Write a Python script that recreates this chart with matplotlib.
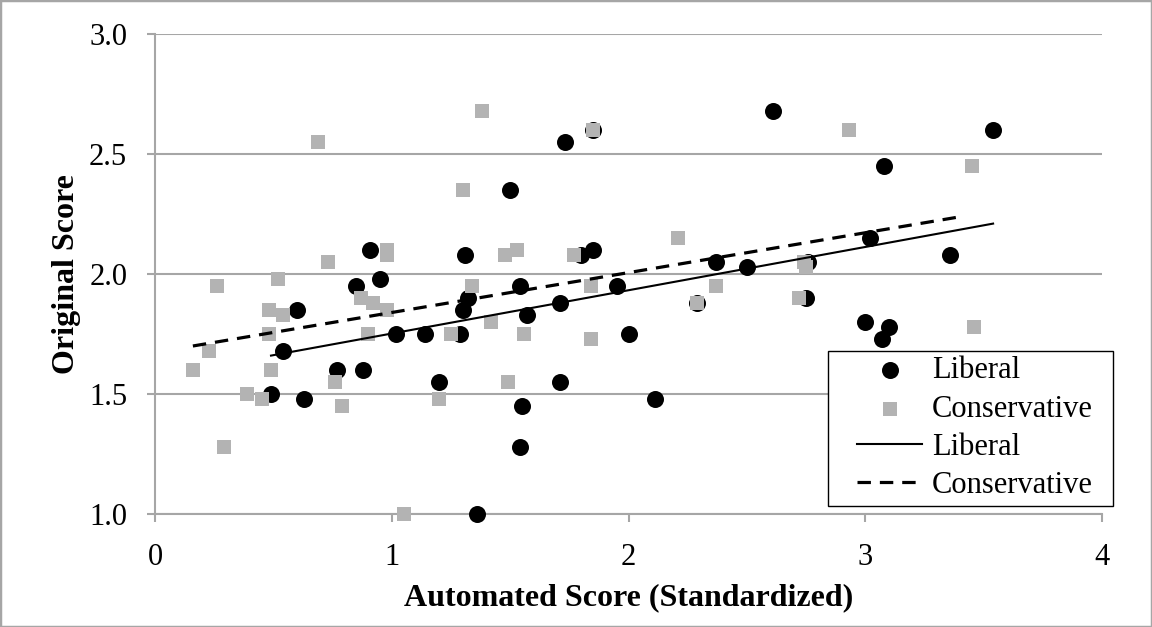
import matplotlib
matplotlib.use("Agg")
import matplotlib.pyplot as plt
from matplotlib.legend_handler import HandlerLine2D, HandlerPathCollection
from matplotlib.patches import Rectangle

# ─── Dados ───────────────────────────────────────────────────────────────────
lib_x = [0.49, 0.54, 0.60, 0.63, 0.77, 0.85, 0.88, 0.91, 0.95, 1.02,
         1.14, 1.20, 1.29, 1.30, 1.31, 1.32, 1.36, 1.50, 1.54, 1.54,
         1.55, 1.57, 1.71, 1.71, 1.73, 1.80, 1.85, 1.85, 1.95, 2.00,
         2.11, 2.29, 2.37, 2.50, 2.61, 2.76, 2.75, 3.00, 3.10, 3.07,
         3.08, 3.02, 3.36, 3.54]
lib_y = [1.50, 1.68, 1.85, 1.48, 1.60, 1.95, 1.60, 2.10, 1.98, 1.75,
         1.75, 1.55, 1.75, 1.85, 2.08, 1.90, 1.00, 2.35, 1.28, 1.95,
         1.45, 1.83, 1.55, 1.88, 2.55, 2.08, 2.10, 2.60, 1.95, 1.75,
         1.48, 1.88, 2.05, 2.03, 2.68, 2.05, 1.90, 1.80, 1.78, 1.73,
         2.45, 2.15, 2.08, 2.60]

con_x = [0.16, 0.23, 0.26, 0.29, 0.39, 0.45, 0.48, 0.48, 0.49, 0.52,
         0.54, 0.69, 0.73, 0.76, 0.79, 0.87, 0.92, 0.90, 0.98, 0.98,
         0.98, 1.05, 1.20, 1.25, 1.30, 1.34, 1.38, 1.42, 1.48, 1.49,
         1.53, 1.56, 1.77, 1.84, 1.84, 1.85, 2.21, 2.29, 2.37, 2.72,
         2.74, 2.75, 2.93, 3.45, 3.46]
con_y = [1.60, 1.68, 1.95, 1.28, 1.50, 1.48, 1.85, 1.75, 1.60, 1.98,
         1.83, 2.55, 2.05, 1.55, 1.45, 1.90, 1.88, 1.75, 2.10, 2.08,
         1.85, 1.00, 1.48, 1.75, 2.35, 1.95, 2.68, 1.80, 2.08, 1.55,
         2.10, 1.75, 2.08, 1.95, 1.73, 2.60, 2.15, 1.88, 1.95, 1.90,
         2.05, 2.03, 2.60, 2.45, 1.78]

# linhas de tendência (extremos)
lib_trend_x = [0.49, 3.54]
lib_trend_y = [1.66, 2.21]
con_trend_x = [0.16, 3.41]
con_trend_y = [1.70, 2.24]

x_ticks = [0, 1, 2, 3, 4]
y_ticks = [1.0, 1.5, 2.0, 2.5, 3.0]

GRID = "#a6a6a6"
GREY = "#b3b3b3"
FS = 22

plt.rcParams["font.family"] = ["Liberation Serif", "DejaVu Serif"]

fig = plt.figure(figsize=(11.52, 6.27), dpi=100)
ax = fig.add_axes([155 / 1152, 1 - 514 / 627, 947 / 1152, 480 / 627])

ax.scatter(lib_x, lib_y, s=150, marker="o", color="black", linewidths=0,
           label="Liberal", zorder=3, clip_on=False)
ax.scatter(con_x, con_y, s=100, marker="s", color=GREY, linewidths=0,
           label="Conservative", zorder=4, clip_on=False)
ax.plot(lib_trend_x, lib_trend_y, color="black", lw=1.5, label="Liberal", zorder=5)
ax.plot(con_trend_x, con_trend_y, color="black", lw=2.3, linestyle=(0, (4.2, 2.8)),
        label="Conservative", zorder=5)

ax.set_xlim(0, 4)
ax.set_ylim(1.0, 3.0)
ax.set_xticks(x_ticks)
ax.set_yticks(y_ticks)
ax.set_xticklabels([str(t) for t in x_ticks])
ax.set_yticklabels([f"{t:.1f}" for t in y_ticks])

ax.grid(axis="y", color=GRID, lw=1.5)
ax.set_axisbelow(True)
for side in ["top", "right"]:
    ax.spines[side].set_visible(False)
for side in ["left", "bottom"]:
    ax.spines[side].set_color(GRID)
    ax.spines[side].set_linewidth(1.5)

ax.tick_params(axis="both", direction="out", length=6, width=1.5, color=GRID,
               labelsize=FS, labelcolor="black")
ax.tick_params(axis="y", pad=14)
ax.tick_params(axis="x", pad=15)

ax.set_xlabel("Automated Score (Standardized)", fontsize=23, fontweight="bold", labelpad=8)
ax.set_ylabel("Original Score", fontsize=23, fontweight="bold", labelpad=6)

leg = ax.legend(loc="upper left", mode="expand",
                bbox_to_anchor=(828 / 1152, 1 - 505 / 627, 285 / 1152, 154 / 627),
                bbox_transform=fig.transFigure, borderaxespad=0, borderpad=0.18,
                labelspacing=0.30, handlelength=2.90, handletextpad=0.33,
                fontsize=FS, fancybox=False, framealpha=1, edgecolor="black",
                handler_map={
                    plt.Line2D: HandlerLine2D(xpad=0.77),
                    matplotlib.collections.PathCollection: HandlerPathCollection(xpad=0.77),
                })
leg.get_frame().set_linewidth(1.0)

# moldura externa da figura
fig.patches.append(Rectangle((0, 0), 1, 1, transform=fig.transFigure, fill=False,
                             edgecolor=GRID, lw=2.5))

fig.savefig("out.png", dpi=100)
